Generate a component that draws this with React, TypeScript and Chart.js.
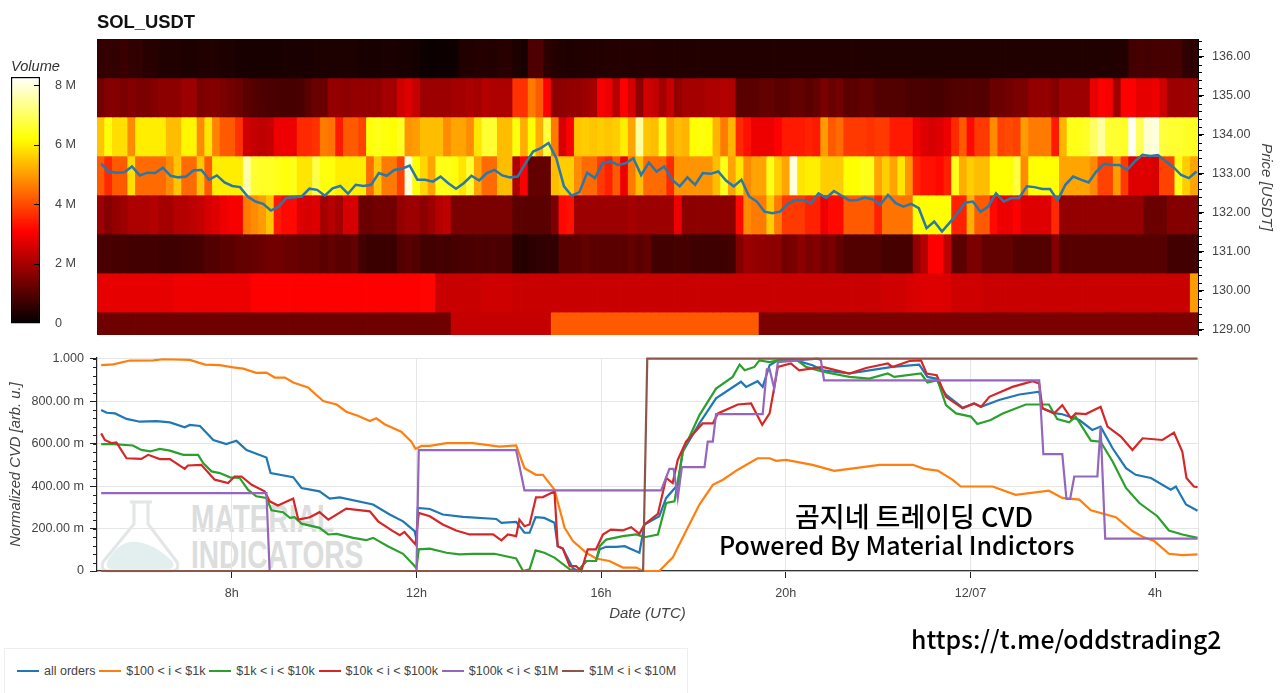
import { Chart, registerables } from 'chart.js';
import { useEffect, useRef } from 'react';

Chart.register(...registerables);
Chart.defaults.font.family = '"Liberation Sans", Arial, sans-serif';
Chart.defaults.color = '#444444';

const xMin = 5.08;
const xMax = 28.93;
const volMax = 8.27;

const rowPrices = [136, 135, 134, 133, 132, 131, 130, 129];

const vol136 = [
  .6, .65, .6, .7, .6, .6, .5, .5, .4, .4,
  .4, .35, .35, .4, .4, .4, .35, .35, .3, .3,
  .3, .3, .3, .3, .32, .32, .32, .32, .35, .35,
  .35, .35, .35, .35, .3, .3, .3, .32, .32, .3,
  .3, .25, .15, .12, .15, .15, .18, .4, .42, .45,
  .45, .42, .5, .5, .35, .3, .95, .95, .55, .45,
  .4, .38, .4, .42, .42, .42, .45, .45, .45, .42,
  .45, .45, .42, .42, .42, .42, .42, .42, .42, .42,
  .42, .42, .42, .42, .42, .42, .42, .42, .42, .42,
  .42, .42, .42, .42, .42, .42, .42, .42, .42, .42,
  .4, .4, .4, .4, .4, .4, .4, .4, .4, .4,
  .4, .4, .4, .4, .4, .4, .4, .4, .4, .4,
  .4, .4, .4, .4, .4, .4, .4, .4, .4, .4,
  .4, .4, .42, .42, .8, .85, .8, .85, .85, .85,
  .85, .6, .55,
];
const vol135 = [
  1.4, 1.6, 1.6, 1.5, 1.6, 1.5, 1.5, 1.6, 1.7, 1.7,
  1.7, 1.9, 1.9, 1.5, 1.6, 1.6, 1.5, 1.4, 1.3, 1.1,
  1.0, .95, .9, .9, .85, .85, .9, 1.1, 1.3, 1.3,
  1.8, 1.8, 1.7, 1.8, 1.8, 1.8, 1.8, 2.0, 2.0, 2.5,
  2.7, 2.4, 1.9, 1.9, 1.9, 1.9, 2.0, 2.0, 2.1, 2.0,
  2.2, 2.1, 2.1, 2.1, 3.7, 3.7, 4.6, 4.2, 3.1, 1.7,
  1.7, 1.8, 1.8, 1.9, 2.0, 3.0, 2.9, 2.2, 3.1, 2.6,
  1.7, 2.5, 2.4, 2.0, 2.4, 1.8, 2.0, 2.0, 2.0, 2.1,
  2.1, 2.2, 2.1, 1.1, 1.1, 1.1, 1.2, 1.2, 1.1, 1.1,
  1.2, 1.2, 1.1, 1.2, 1.5, 1.3, 1.4, 1.1, 1.1, 1.2,
  1.2, 1.0, 1.0, 1.0, 1.0, .9, .9, .9, .85, .85,
  .95, 1.0, 1.0, 1.05, 1.0, 1.0, 1.3, 1.3, 1.4, 1.5,
  1.5, 1.8, 1.8, 1.8, 1.6, 1.9, 1.9, 1.9, 1.9, 2.8,
  3.1, 3.0, 1.9, 3.1, 3.1, 2.8, 2.8, 2.9, 2.5, 1.9,
  1.9, 1.9, 1.9,
];
const vol134 = [
  5.5, 6.3, 5.8, 5.8, 4.8, 6.0, 6.0, 6.0, 6.0, 5.4,
  5.4, 6.1, 6.1, 4.8, 5.9, 4.7, 4.2, 4.2, 3.7, 2.5,
  2.4, 2.3, 2.4, 2.9, 2.9, 2.9, 3.6, 3.6, 3.7, 4.6,
  4.5, 3.4, 4.2, 4.2, 3.9, 6.3, 6.4, 6.3, 6.2, 6.5,
  4.9, 5.0, 5.4, 5.4, 5.4, 4.8, 5.1, 5.1, 4.8, 5.9,
  6.6, 6.6, 5.4, 5.4, 6.3, 5.2, 6.2, 5.2, 6.7, 4.6,
  2.6, 3.1, 5.5, 5.6, 5.5, 5.6, 5.5, 5.6, 6.0, 5.1,
  7.5, 5.5, 5.4, 6.4, 5.1, 5.4, 5.3, 6.2, 6.3, 6.2,
  5.3, 4.6, 5.3, 3.6, 3.3, 2.9, 2.9, 2.9, 3.1, 3.4,
  3.4, 3.4, 3.5, 3.4, 5.0, 4.2, 4.4, 3.8, 3.8, 3.8,
  3.7, 3.8, 3.8, 3.4, 3.4, 3.4, 2.9, 2.7, 2.6, 2.7,
  2.9, 3.6, 4.2, 3.2, 3.8, 3.8, 4.8, 3.9, 4.0, 3.9,
  5.0, 4.6, 4.6, 4.6, 3.4, 5.3, 6.4, 6.4, 6.5, 7.0,
  7.5, 6.6, 6.6, 6.5, 8.2, 6.9, 7.9, 8.0, 6.7, 6.6,
  6.6, 6.5, 6.5,
];
const vol133 = [
  4.2, 3.6, 4.2, 4.2, 5.8, 4.4, 4.4, 4.4, 4.4, 4.8,
  5.5, 4.4, 4.4, 5.5, 4.2, 6.0, 6.0, 6.0, 6.0, 7.6,
  6.6, 6.5, 6.5, 6.4, 6.3, 6.4, 5.9, 5.9, 6.8, 6.3,
  6.3, 6.0, 6.0, 6.0, 6.0, 4.4, 5.5, 4.6, 4.6, 3.9,
  8.0, 6.2, 5.7, 5.1, 6.4, 6.4, 6.3, 5.9, 6.6, 5.1,
  4.4, 4.4, 5.4, 5.4, 2.1, 3.1, 1.2, 1.2, 1.2, 5.4,
  5.6, 5.6, 4.8, 4.4, 4.4, 3.8, 3.5, 4.2, 2.9, 4.6,
  5.4, 4.4, 4.4, 4.4, 3.6, 4.9, 4.9, 4.9, 4.9, 4.9,
  5.4, 6.4, 5.1, 5.9, 4.8, 5.1, 5.1, 6.4, 5.6, 5.1,
  8.0, 5.9, 6.0, 6.0, 5.6, 5.6, 5.6, 6.2, 6.2, 6.4,
  6.4, 5.1, 5.6, 5.1, 5.9, 4.9, 3.5, 3.3, 3.3, 3.2,
  3.5, 6.4, 5.2, 5.6, 5.4, 5.4, 6.2, 6.2, 6.2, 6.7,
  4.8, 6.2, 6.2, 6.2, 6.2, 5.1, 5.1, 5.1, 5.1, 4.8,
  3.9, 3.9, 5.0, 3.8, 2.7, 2.7, 2.7, 2.6, 3.9, 3.9,
  6.4, 5.6, 5.1,
];
const vol132 = [
  1.9, 1.6, 1.8, 1.9, 2.1, 2.1, 2.1, 2.2, 2.0, 2.0,
  2.2, 2.2, 2.3, 2.4, 2.6, 2.7, 2.9, 3.0, 3.0, 4.6,
  4.8, 5.0, 5.5, 3.4, 3.2, 3.2, 2.7, 2.6, 2.7, 2.0,
  2.2, 2.0, 2.6, 2.6, 1.3, 1.3, 1.4, 1.4, 1.4, 1.8,
  1.9, 1.9, 1.7, 1.9, 2.2, 2.3, 1.5, 1.5, 1.5, 1.5,
  1.5, 1.5, 1.5, 1.5, 1.1, 1.1, 1.1, 1.1, 1.1, 1.5,
  3.2, 3.3, 1.9, 1.9, 1.9, 1.9, 1.9, 1.9, 1.9, 2.0,
  1.9, 1.9, 1.9, 1.9, 1.9, 2.9, 1.7, 1.7, 1.7, 1.7,
  1.7, 1.7, 1.7, 3.2, 4.8, 4.6, 4.6, 5.6, 4.6, 3.8,
  3.8, 3.8, 3.5, 3.5, 2.9, 3.2, 3.2, 4.2, 4.2, 4.2,
  4.2, 3.5, 4.5, 4.5, 4.5, 4.5, 6.2, 6.2, 6.2, 6.2,
  6.2, 3.5, 3.5, 5.2, 4.2, 4.2, 3.2, 2.9, 2.9, 3.1,
  2.7, 2.7, 2.7, 2.7, 3.6, 1.8, 1.8, 1.8, 1.8, 1.8,
  1.8, 1.8, 1.8, 1.8, 1.8, 1.8, 1.3, 1.3, 1.3, 1.6,
  1.6, 1.6, 1.6,
];
const vol131 = [
  .9, .9, .85, .85, .8, .8, .8, .8, .75, .75,
  .75, .8, .8, .85, 1.0, 1.0, 1.1, 1.1, 1.2, 1.2,
  1.25, 1.3, 1.4, 1.4, 1.3, 1.3, 1.2, 1.2, 1.2, 1.1,
  1.2, 1.1, 1.1, 1.2, .8, .7, .7, .7, .7, 1.0,
  1.1, 1.0, .8, .8, .85, .8, .85, .9, .9, .95,
  .9, .95, .9, .9, .5, .45, .55, .6, .6, .6,
  1.1, 1.1, 1.1, 1.2, 1.1, 1.1, 1.1, 1.1, 1.1, 1.2,
  1.1, 1.2, .8, .8, .8, .85, .85, .75, .75, .75,
  .75, .75, .8, 1.6, 1.9, 1.8, 1.8, 1.7, 1.7, 1.4,
  1.5, 1.7, 1.5, 1.6, 1.4, 1.5, 1.2, 1.0, 1.0, 1.0,
  1.0, 1.0, .85, .85, .85, .85, 1.8, 2.2, 3.1, 3.1,
  2.3, 1.1, 1.1, 1.5, 1.5, 1.2, 1.2, 1.2, 1.2, 1.0,
  1.0, 1.0, 1.0, 1.0, 1.6, 1.05, 1.05, 1.05, 1.05, 1.05,
  1.05, 1.05, 1.05, 1.05, 1.05, 1.05, 1.05, 1.05, 1.05, .8,
  .8, .8, .8,
];
const vol130 = [
  2.8, 2.8, 2.8, 2.8, 2.8, 2.8, 2.8, 2.8, 2.8, 2.8,
  2.9, 2.9, 2.9, 2.9, 2.9, 2.9, 2.9, 2.9, 2.9, 2.9,
  3.1, 3.1, 3.1, 3.1, 3.1, 3.1, 3.1, 3.1, 3.1, 3.1,
  3.1, 3.1, 3.1, 3.1, 3.1, 3.1, 3.1, 3.1, 3.1, 3.1,
  3.1, 3.1, 3.15, 3.15, 2.45, 2.45, 2.45, 2.45, 2.45, 2.45,
  2.5, 2.5, 2.5, 2.5, 2.45, 2.45, 2.45, 2.45, 2.45, 2.45,
  2.45, 2.45, 2.45, 2.45, 2.45, 2.45, 2.45, 2.45, 2.45, 2.45,
  2.45, 2.45, 2.45, 2.45, 2.45, 2.45, 2.45, 2.45, 2.45, 2.45,
  2.45, 2.45, 2.45, 2.45, 2.45, 2.45, 2.45, 2.45, 2.45, 2.45,
  2.45, 2.45, 2.45, 2.45, 2.45, 2.45, 2.45, 2.45, 2.45, 2.45,
  2.45, 2.45, 2.5, 2.5, 2.5, 2.6, 2.65, 2.7, 2.7, 2.7,
  2.65, 2.5, 2.5, 2.5, 2.5, 2.45, 2.45, 2.45, 2.45, 2.45,
  2.45, 2.45, 2.45, 2.45, 2.45, 2.45, 2.45, 2.45, 2.45, 2.45,
  2.45, 2.45, 2.45, 2.45, 2.45, 2.45, 2.45, 2.45, 2.45, 2.45,
  2.45, 2.45, 5.0,
];
const vol129 = [
  1.35, 1.35, 1.35, 1.35, 1.35, 1.35, 1.35, 1.35, 1.35, 1.35,
  1.35, 1.35, 1.35, 1.35, 1.35, 1.35, 1.35, 1.35, 1.35, 1.35,
  1.35, 1.35, 1.35, 1.35, 1.35, 1.35, 1.35, 1.35, 1.35, 1.35,
  1.35, 1.35, 1.35, 1.35, 1.35, 1.35, 1.35, 1.35, 1.35, 1.35,
  1.35, 1.35, 1.35, 1.35, 1.35, 1.35, 2.4, 2.4, 2.4, 2.4,
  2.4, 2.4, 2.4, 2.4, 2.4, 2.4, 2.4, 2.4, 2.4, 4.2,
  4.2, 4.2, 4.2, 4.2, 4.2, 4.2, 4.2, 4.2, 4.2, 4.2,
  4.2, 4.2, 4.2, 4.2, 4.2, 4.2, 4.2, 4.2, 4.2, 4.2,
  4.2, 4.2, 4.2, 4.2, 4.2, 4.2, 1.5, 1.5, 1.5, 1.5,
  1.5, 1.5, 1.5, 1.5, 1.5, 1.5, 1.5, 1.5, 1.5, 1.5,
  1.5, 1.5, 1.5, 1.5, 1.5, 1.5, 1.5, 1.5, 1.5, 1.5,
  1.5, 1.5, 1.5, 1.5, 1.5, 1.5, 1.5, 1.5, 1.5, 1.5,
  1.5, 1.5, 1.5, 1.5, 1.5, 1.5, 1.5, 1.5, 1.5, 1.5,
  1.5, 1.5, 1.5, 1.5, 1.5, 1.5, 1.5, 1.5, 1.5, 1.5,
  1.5, 1.5, 1.5,
];
const volumeRows = [vol136, vol135, vol134, vol133, vol132, vol131, vol130, vol129];

// price close, one reading per 10 min starting at 5.17h
const priceStartHour = 5.17;
const priceStepHour = 0.1671;
const priceClose = [
  133.26, 133.06, 133.03, 133.04, 133.19, 132.96, 133.03, 133.02, 133.16, 132.95,
  132.91, 132.93, 133.09, 133.10, 132.85, 132.96, 132.78, 132.69, 132.66, 132.42,
  132.29, 132.23, 132.06, 132.16, 132.38, 132.40, 132.42, 132.62, 132.59, 132.44,
  132.63, 132.69, 132.49, 132.72, 132.69, 132.72, 133.02, 132.95, 133.10, 133.13,
  133.21, 132.85, 132.85, 132.80, 132.93, 132.76, 132.62, 132.76, 132.95, 132.83,
  133.02, 133.10, 132.96, 132.91, 132.93, 133.27, 133.57, 133.66, 133.79, 133.40,
  132.68, 132.44, 132.53, 133.03, 132.89, 133.27, 133.32, 133.23, 133.27, 133.40,
  132.97, 133.29, 133.06, 133.19, 132.85, 132.68, 132.91, 132.72, 133.02, 133.00,
  133.06, 132.83, 132.68, 132.85, 132.42, 132.29, 132.03, 131.99, 132.03, 132.23,
  132.33, 132.33, 132.25, 132.50, 132.38, 132.56, 132.44, 132.32, 132.33, 132.39,
  132.35, 132.21, 132.46, 132.25, 132.16, 132.23, 132.12, 131.61, 131.78, 131.52,
  131.75, 131.99, 132.26, 132.29, 132.03, 132.16, 132.50, 132.29, 132.38, 132.38,
  132.68, 132.66, 132.61, 132.61, 132.32, 132.72, 132.93, 132.85, 132.78, 133.06,
  133.26, 133.23, 133.23, 133.10, 133.32, 133.49, 133.46, 133.48, 133.32, 133.17,
  132.97, 132.89, 133.06,
];

const priceTicks = [129, 130, 131, 132, 133, 134, 135, 136];
const volumeTicks = [0, 2, 4, 6, 8];
const cvdTicks = [0, 0.2, 0.4, 0.6, 0.8, 1];
const cvdTickLabels = ['0', '200.00 m', '400.00 m', '600.00 m', '800.00 m', '1.000'];
const dateTickHours = [8, 12, 16, 20, 24, 28];
const dateTickLabels = ['8h', '12h', '16h', '20h', '12/07', '4h'];

const allOrdersHours = [5.17, 5.29, 5.47, 5.72, 6.01, 6.37, 6.66, 6.98, 7.09, 7.31, 7.60, 7.88, 8.10, 8.32, 8.75, 8.84, 9.33, 9.51, 9.90, 10.12, 10.34, 11.06, 11.42, 11.71, 11.96, 12.00, 12.03, 12.29, 12.57, 13.01, 13.73, 13.84, 14.16, 14.34, 14.45, 14.58, 14.77, 14.99, 15.06, 15.17, 15.39, 15.50, 15.68, 15.89, 15.97, 16.11, 16.33, 16.51, 16.83, 16.94, 17.26, 17.41, 17.66, 17.77, 18.13, 18.49, 19.03, 19.14, 19.39, 19.50, 19.65, 19.83, 20.22, 20.58, 20.80, 21.38, 21.81, 22.31, 22.89, 23.07, 23.25, 23.47, 23.83, 24.08, 24.23, 24.62, 25.06, 25.49, 25.56, 25.85, 25.99, 26.36, 26.64, 26.82, 27.08, 27.37, 27.58, 27.91, 28.34, 28.45, 28.67, 28.92];
const allOrdersCvd = [.758, .745, .742, .716, .703, .706, .700, .677, .688, .683, .617, .598, .613, .570, .534, .461, .442, .391, .375, .341, .347, .313, .266, .234, .188, .148, .297, .292, .266, .255, .245, .227, .231, .180, .180, .253, .250, .227, .117, .106, .013, 0, .047, .047, .102, .114, .114, .117, .086, .219, .258, .344, .406, .563, .695, .813, .891, .867, .894, .867, .969, .992, .992, .969, .945, .930, .945, .961, .972, .914, .906, .831, .769, .789, .773, .805, .831, .844, .766, .742, .738, .711, .664, .680, .578, .484, .453, .438, .383, .398, .313, .284];

const tier100Hours = [5.17, 5.43, 5.79, 6.30, 6.51, 7.09, 7.42, 7.74, 8.03, 8.25, 8.53, 8.75, 8.93, 9.15, 9.33, 9.65, 9.98, 10.27, 10.48, 10.73, 10.99, 11.13, 11.31, 11.67, 11.89, 11.98, 12.11, 12.29, 12.65, 13.22, 13.80, 14.16, 14.34, 14.59, 14.74, 14.99, 15.21, 15.39, 15.68, 15.89, 16.18, 16.47, 16.76, 16.91, 17.26, 17.55, 17.84, 18.13, 18.42, 18.64, 18.96, 19.39, 19.65, 19.79, 20.01, 20.58, 21.05, 21.38, 22.03, 22.75, 23.00, 23.29, 23.61, 23.79, 24.48, 24.98, 25.70, 25.99, 26.36, 26.61, 27.15, 27.51, 27.73, 27.98, 28.30, 28.59, 28.92];
const tier100Cvd = [.969, .973, .991, .992, .997, .994, .972, .969, .959, .953, .933, .934, .911, .911, .888, .864, .800, .784, .750, .731, .706, .719, .691, .656, .609, .575, .589, .589, .602, .602, .586, .591, .484, .453, .453, .383, .203, .141, .086, .059, .047, .016, .016, 0, 0, .063, .188, .313, .406, .430, .477, .531, .531, .519, .523, .500, .472, .481, .500, .500, .481, .473, .430, .398, .398, .359, .378, .344, .336, .286, .253, .188, .161, .141, .081, .075, .078];

const tier1kHours = [5.17, 5.43, 5.86, 6.04, 6.23, 6.44, 6.66, 6.95, 7.27, 7.38, 7.56, 7.74, 7.96, 8.17, 8.35, 8.53, 8.75, 8.86, 9.11, 9.26, 9.36, 9.51, 9.90, 10.09, 10.27, 10.63, 10.91, 11.06, 11.38, 11.71, 11.93, 12.00, 12.05, 12.29, 12.65, 12.93, 13.22, 13.69, 14.16, 14.31, 14.45, 14.58, 14.77, 14.99, 15.32, 15.50, 15.68, 15.89, 15.97, 16.11, 16.47, 16.76, 16.94, 17.23, 17.41, 17.59, 17.77, 18.13, 18.49, 18.85, 19.00, 19.11, 19.32, 19.43, 19.65, 19.83, 20.22, 20.44, 20.80, 21.38, 21.81, 22.21, 22.35, 22.93, 23.07, 23.29, 23.47, 23.69, 24.01, 24.15, 24.44, 24.70, 25.20, 25.70, 25.88, 26.14, 26.28, 26.61, 26.82, 27.08, 27.37, 27.66, 28.05, 28.30, 28.59, 28.92];
const tier1kCvd = [.597, .597, .591, .570, .563, .575, .567, .547, .547, .508, .469, .461, .441, .438, .383, .352, .344, .286, .277, .250, .253, .223, .203, .172, .175, .156, .145, .156, .117, .081, .031, .013, .102, .105, .086, .078, .081, .081, .059, 0, .008, .097, .086, .063, .008, 0, .047, .047, .117, .148, .164, .172, .159, .172, .320, .328, .563, .734, .859, .914, .972, .945, .961, .992, .984, .992, .997, .961, .938, .914, .906, .930, .914, .930, .888, .898, .781, .742, .727, .692, .711, .742, .784, .784, .716, .700, .727, .614, .609, .516, .391, .320, .258, .191, .172, .156];

const tier10kHours = [5.17, 5.25, 5.40, 5.50, 5.72, 6.04, 6.19, 6.44, 6.66, 6.98, 7.05, 7.34, 7.63, 7.92, 8.06, 8.21, 8.43, 8.71, 8.82, 9.00, 9.33, 9.44, 9.69, 9.90, 10.09, 10.48, 10.99, 11.17, 11.49, 11.64, 11.74, 11.98, 12.05, 12.29, 12.57, 12.86, 13.15, 13.66, 13.84, 13.98, 14.16, 14.23, 14.34, 14.45, 14.59, 14.74, 14.99, 15.06, 15.17, 15.32, 15.46, 15.57, 15.71, 15.89, 16.04, 16.21, 16.47, 16.65, 16.83, 16.94, 17.23, 17.41, 17.55, 17.66, 17.84, 18.20, 18.42, 18.53, 18.96, 19.25, 19.49, 19.65, 19.83, 20.11, 20.29, 20.80, 21.38, 21.74, 22.21, 22.31, 22.68, 22.93, 23.05, 23.27, 23.47, 23.83, 24.08, 24.23, 24.41, 24.91, 25.35, 25.49, 25.56, 25.81, 25.99, 26.18, 26.28, 26.50, 26.82, 26.97, 27.26, 27.51, 27.73, 28.16, 28.41, 28.59, 28.68, 28.84, 28.92];
const tier10kCvd = [.648, .617, .602, .605, .531, .528, .547, .527, .527, .481, .497, .500, .430, .414, .445, .445, .406, .375, .328, .308, .341, .242, .253, .277, .242, .294, .281, .234, .188, .169, .184, .125, .273, .258, .219, .191, .172, .172, .144, .172, .164, .242, .211, .219, .347, .348, .375, .117, .106, .023, .023, 0, .102, .102, .172, .195, .191, .206, .175, .219, .269, .438, .414, .523, .609, .695, .695, .742, .784, .789, .688, .742, .961, .977, .945, .961, .930, .956, .977, .961, .989, .992, .930, .922, .820, .766, .789, .773, .820, .867, .894, .883, .766, .742, .781, .719, .742, .739, .773, .680, .633, .570, .625, .617, .652, .563, .438, .398, .395];

const tier100kHours = [5.17, 8.75, 8.82, 12.00, 12.05, 14.16, 14.34, 17.30, 17.48, 17.57, 17.66, 17.75, 18.24, 18.31, 18.42, 18.49, 19.50, 19.59, 19.65, 19.75, 19.83, 20.69, 20.76, 20.83, 21.38, 25.49, 25.58, 25.99, 26.08, 26.16, 26.25, 26.75, 26.82, 26.92, 28.92];
const tier100kCvd = [.367, .367, 0, 0, .569, .569, .380, .380, .481, .481, .344, .489, .489, .609, .609, .739, .739, .950, .950, .859, .984, 1, .992, .898, .898, .898, .550, .550, .339, .339, .445, .445, .680, .152, .152];

const tier1mHours = [5.17, 16.91, 17.0, 28.92];
const tier1mCvd = [0, 0, 1, 1];

const seriesLabels = ['all orders', '$100 < i < $1k', '$1k < i < $10k', '$10k < i < $100k', '$100k < i < $1M', '$1M < i < $10M'];
const seriesColors = ['#1f77b4', '#ff7f0e', '#2ca02c', '#d62728', '#9467bd', '#8c564b'];
const seriesHours = [allOrdersHours, tier100Hours, tier1kHours, tier10kHours, tier100kHours, tier1mHours];
const seriesCvd = [allOrdersCvd, tier100Cvd, tier1kCvd, tier10kCvd, tier100kCvd, tier1mCvd];

// matplotlib style "hot" ramp
function hot(t: number) {
  const r = Math.min(1, t / 0.375);
  const g = Math.max(0, Math.min(1, (t - 0.375) / 0.375));
  const b = Math.max(0, Math.min(1, (t - 0.75) / 0.25));
  return `rgb(${Math.round(r * 255)},${Math.round(g * 255)},${Math.round(b * 255)})`;
}

// extra small ticks between the labelled ones, placed by the scale itself
const minorTicks = {
  id: 'minorTicks',
  afterDraw(chart: any, _args: any, opts: any) {
    if (!opts.step) return;
    const scale = chart.scales.y;
    const { ctx, chartArea } = chart;
    const edge = opts.side === 'right' ? chartArea.right : opts.side === 'inside' ? chartArea.right : chartArea.left;
    const dir = opts.side === 'right' ? 1 : -1;
    ctx.save();
    ctx.strokeStyle = opts.color ?? '#000';
    ctx.lineWidth = 1;
    ctx.beginPath();
    for (let n = 0; ; n++) {
      const v = opts.start + n * opts.step;
      if (v > scale.max) break;
      if (v < scale.min) continue;
      const y = Math.round(scale.getPixelForValue(v)) + 0.5;
      ctx.moveTo(edge, y);
      ctx.lineTo(edge + dir * opts.length, y);
    }
    if (opts.frameColor) {
      ctx.stroke();
      ctx.beginPath();
      ctx.strokeStyle = opts.frameColor;
      ctx.moveTo(chartArea.right + 0.5, chartArea.top);
      ctx.lineTo(chartArea.right + 0.5, chartArea.bottom);
    }
    ctx.stroke();
    ctx.restore();
  },
};

// the scale keeps room for half a label past its ends, which we do not want here
const fitY = (width: number) => (s: any) => {
  s.width = width;
  s.paddingTop = 0;
  s.paddingBottom = 0;
};

function useChart(build: (canvas: HTMLCanvasElement) => Chart) {
  const canvasRef = useRef<HTMLCanvasElement>(null);
  useEffect(() => {
    if (!canvasRef.current) return;
    const chart = build(canvasRef.current);
    return () => chart.destroy();
  }, []);
  return canvasRef;
}

function buildHeatmap(canvas: HTMLCanvasElement) {
  const datasets: any[] = volumeRows.map((row, r) => ({
    type: 'bar',
    label: String(rowPrices[r]),
    // price bins sit a little under the round tick values
    data: row.map(() => [rowPrices[r] - 0.54, rowPrices[r] + 0.46]),
    backgroundColor: row.map(v => hot(v / volMax)),
    grouped: false,
    barPercentage: 1,
    categoryPercentage: 1,
    inflateAmount: 0.4,
    order: 2,
  }));
  datasets.push({
    type: 'line',
    label: 'price',
    xAxisID: 'hours',
    data: priceClose.map((p, i) => ({ x: priceStartHour + i * priceStepHour, y: p })),
    borderColor: '#2878ab',
    borderWidth: 2.5,
    pointRadius: 0,
    tension: 0,
    order: 1,
  });
  return new Chart(canvas, {
    data: { labels: vol136.map((_, i) => String(i)), datasets },
    plugins: [minorTicks],
    options: {
      responsive: false,
      animation: false,
      layout: { padding: { left: 97, top: 12, bottom: 10 } },
      scales: {
        x: { display: false, stacked: false },
        hours: { type: 'linear', display: false, min: xMin, max: xMax, position: 'bottom' },
        y: {
          position: 'right',
          min: 128.87,
          max: 136.454,
          afterBuildTicks: (s: any) => { s.ticks = priceTicks.map(value => ({ value })); },
          afterFit: fitY(82),
          ticks: { callback: (v: any) => Number(v).toFixed(2), font: { size: 12.6 }, padding: 8, autoSkip: false },
          grid: { drawOnChartArea: false, tickColor: '#000', tickLength: 6 },
          border: { color: '#000', width: 1 },
          title: { display: true, text: 'Price [USDT]', font: { size: 15, style: 'italic' }, padding: { top: 5, bottom: 0 } },
        },
      },
      plugins: {
        legend: { display: false },
        tooltip: { enabled: false },
        title: { display: true, text: 'SOL_USDT', align: 'start', color: '#111', font: { size: 18.4, weight: 'bold' }, padding: { top: 0, bottom: 5 } },
        minorTicks: { side: 'right', start: 128.4, step: 0.2, length: 4 },
      },
    } as any,
  });
}

function buildColorbar(canvas: HTMLCanvasElement) {
  return new Chart(canvas, {
    type: 'bar',
    data: {
      labels: ['Volume'],
      datasets: [{
        data: [[0, volMax]] as any,
        barPercentage: 1,
        categoryPercentage: 1,
        borderWidth: 1.5,
        borderColor: '#000',
        borderSkipped: false,
        backgroundColor: (c: any) => {
          const area = c.chart.chartArea;
          if (!area) return '#000';
          const g = c.chart.ctx.createLinearGradient(0, area.bottom, 0, area.top);
          g.addColorStop(0, hot(0));
          g.addColorStop(0.375, hot(0.375));
          g.addColorStop(0.75, hot(0.75));
          g.addColorStop(1, hot(1));
          return g;
        },
      }],
    },
    plugins: [minorTicks],
    options: {
      responsive: false,
      animation: false,
      layout: { padding: { left: 11, top: 58, bottom: 16 } },
      scales: {
        x: { display: false },
        y: {
          position: 'right',
          min: -0.03,
          max: volMax,
          afterBuildTicks: (s: any) => { s.ticks = volumeTicks.map(value => ({ value })); },
          afterFit: fitY(50),
          ticks: { callback: (v: any) => (v === 0 ? '0' : `${v} M`), font: { size: 12.6 }, padding: 7, autoSkip: false },
          grid: { display: false },
          border: { display: false },
        },
      },
      plugins: {
        legend: { display: false },
        tooltip: { enabled: false },
        title: { display: true, text: 'Volume', align: 'start', color: '#333', font: { size: 14.6, style: 'italic', weight: 'normal' }, padding: { top: 0, bottom: 1.5 } },
        minorTicks: { side: 'inside', start: 2, step: 2, length: 6 },
      },
    } as any,
  });
}

function buildCvd(canvas: HTMLCanvasElement) {
  return new Chart(canvas, {
    type: 'line',
    data: {
      datasets: seriesLabels.map((label, s) => ({
        label,
        data: seriesHours[s].map((h, i) => ({ x: h, y: seriesCvd[s][i] })),
        borderColor: seriesColors[s],
        borderWidth: 2.2,
        pointRadius: 0,
        tension: 0,
        clip: 3,
        order: seriesLabels.length - s,
      })),
    },
    plugins: [minorTicks],
    options: {
      responsive: false,
      animation: false,
      layout: { padding: { top: 13, right: 82 } },
      scales: {
        x: {
          type: 'linear',
          min: xMin,
          max: xMax,
          afterBuildTicks: (s: any) => { s.ticks = dateTickHours.map(value => ({ value })); },
          afterFit: (s: any) => { s.height = 64; },
          ticks: {
            callback: (v: any) => dateTickLabels[dateTickHours.indexOf(v)],
            font: { size: 12.6 },
            padding: 8,
            maxRotation: 0,
            autoSkip: false,
          },
          grid: { color: '#e6e6e6', tickColor: '#222', tickLength: 7 },
          border: { color: '#333', width: 1.2 },
          title: { display: true, text: 'Date (UTC)', font: { size: 15, style: 'italic' }, padding: { top: 0, bottom: 12 } },
        },
        y: {
          min: 0,
          max: 1.003,
          afterBuildTicks: (s: any) => { s.ticks = cvdTicks.map(value => ({ value })); },
          afterFit: fitY(97),
          ticks: {
            callback: (v: any) => cvdTickLabels[cvdTicks.indexOf(v)],
            font: { size: 12.6 },
            padding: 6,
            autoSkip: false,
          },
          grid: { color: '#e6e6e6', tickColor: '#222', tickLength: 7 },
          border: { color: '#222', width: 1.2 },
          title: { display: true, text: 'Normalized CVD [arb. u.]', font: { size: 14.8, style: 'italic' }, padding: { top: 7, bottom: 0 } },
        },
      },
      plugins: {
        legend: { display: false },
        tooltip: { enabled: false },
        minorTicks: { side: 'left', start: 0, step: 0.04, length: 4, color: '#222', frameColor: '#e6e6e6' },
      },
    } as any,
  });
}

const abs = (left: number, top: number, extra: object = {}) => ({ position: 'absolute' as const, left, top, ...extra });
const overlayFont = '"Noto Sans CJK KR", "Noto Sans", sans-serif';

export default function App() {
  const heatRef = useChart(buildHeatmap);
  const barRef = useChart(buildColorbar);
  const cvdRef = useChart(buildCvd);
  return (
    <div style={{ position: 'fixed', inset: 0, width: 1280, height: 693, background: '#fff', overflow: 'hidden' }}>
      {/* watermark sits behind the transparent CVD canvas */}
      <svg style={abs(98, 498)} width={84} height={76} viewBox="0 0 84 76">
        <path d="M32 4h22M36 4v22L5 64q-3 9 6 9h62q9 0 6-9L50 26V4" fill="none" stroke="#e2e6e6" strokeWidth={3} />
        <path d="M9 64q12-22 30-20t36 20q2 7-5 7H14q-7 0-5-7z" fill="#e3eeee" />
      </svg>
      <div style={abs(191, 501, { font: 'bold 38px "Liberation Sans"', color: '#dcdddd', lineHeight: '36px', transform: 'scaleX(0.74)', transformOrigin: 'left top', whiteSpace: 'nowrap' })}>
        MATERIAL<br />INDICATORS
      </div>
      <canvas ref={heatRef} width={1280} height={345} style={abs(0, 0)} />
      <canvas ref={barRef} width={90} height={340} style={abs(0, 0)} />
      <canvas ref={cvdRef} width={1280} height={290} style={abs(0, 345)} />
      <div style={abs(795, 496, { font: `500 27px ${overlayFont}`, color: '#000', whiteSpace: 'nowrap' })}>곰지네 트레이딩 CVD</div>
      <div style={abs(719, 526, { font: `500 25px ${overlayFont}`, color: '#000', whiteSpace: 'nowrap' })}>Powered By Material Indictors</div>
      <div style={abs(911, 620, { font: `500 24.8px ${overlayFont}`, color: '#000', whiteSpace: 'nowrap' })}>https://t.me/oddstrading2</div>
      <div style={abs(4, 648, { width: 684, height: 45, border: '1px solid #eeeeee', borderBottom: 'none', boxSizing: 'border-box', display: 'flex', alignItems: 'center', paddingLeft: 12, font: '12.5px "Liberation Sans"', color: '#444' })}>
        {seriesLabels.map((label, s) => (
          <span key={label} style={{ display: 'flex', alignItems: 'center', marginRight: 3.8 }}>
            <span style={{ width: 22, height: 2, background: seriesColors[s], marginRight: 5 }} />
            {label}
          </span>
        ))}
      </div>
    </div>
  );
}
